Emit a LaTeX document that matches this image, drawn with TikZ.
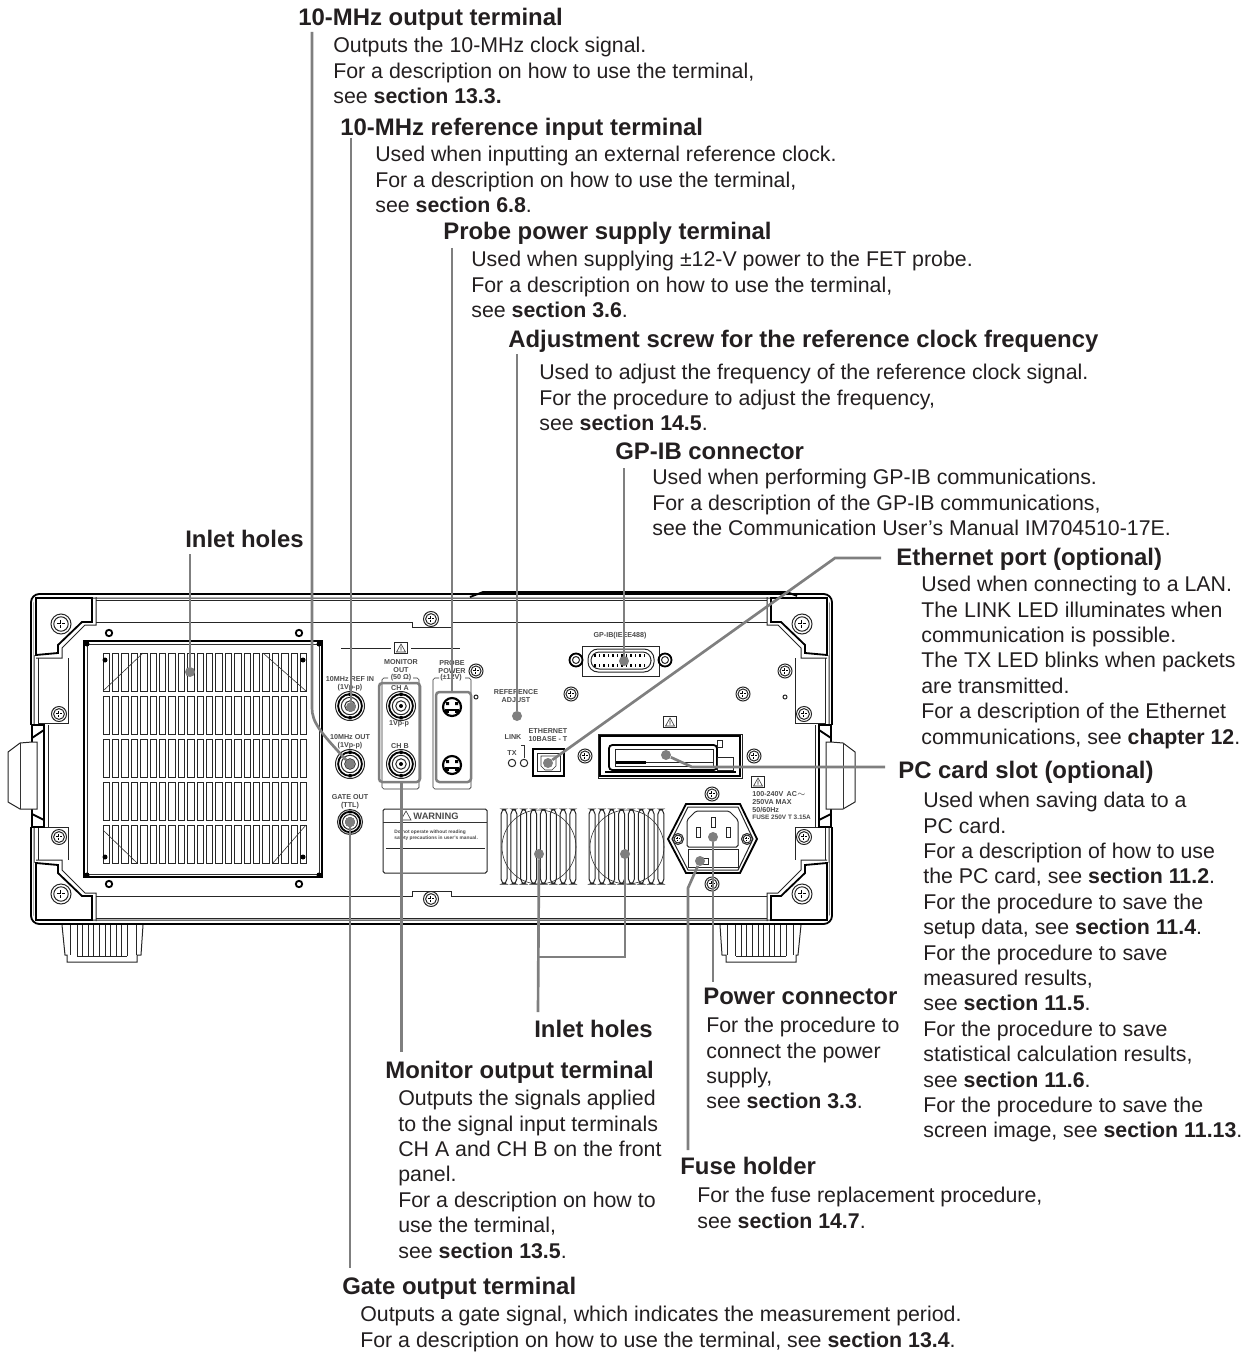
\documentclass[tikz,border=0pt]{standalone}
\usepackage{fontspec}
\setmainfont{Liberation Sans}
\usetikzlibrary{positioning}
\definecolor{leadgray}{HTML}{7F7F7F}
\definecolor{inkblack}{HTML}{231F20}
\definecolor{taggray}{HTML}{4A4A4A}
\tikzset{
  head/.style={anchor=base west, inner sep=0pt, text=inkblack, text depth=3pt,
    font=\fontsize{14.35}{16}\selectfont\bfseries},
  body/.style={align=left, inner sep=0pt, text=inkblack,
    font=\fontsize{12.8}{15.23}\selectfont},
  lead/.style={draw=leadgray, line width=1.6pt},
  tip/.style={circle, fill=leadgray, inner sep=0pt, minimum size=6pt},
  markbox/.style={draw=leadgray, line width=1.5pt, rounded corners=2pt, inner sep=0pt},
  tag/.style={inner sep=0pt, align=center, text=taggray,
    font=\fontsize{4.3}{4.7}\selectfont\bfseries},
  hair/.style={draw=black!80, line width=0.35pt},
  edge/.style={draw=black!85, line width=0.6pt},
  heavy/.style={draw=black, line width=1.1pt},
  pics/screw/.style={code={
    \draw[edge] (0,0) circle (#1);
    \draw[edge] (0,0) circle ({0.72*#1});
    \draw[black, line width=1.1pt] ({-0.4*#1},0) -- ({0.4*#1},0) (0,{-0.4*#1}) -- (0,{0.4*#1});
    \draw[white, line width=0.4pt] ({-0.36*#1},0) -- ({0.36*#1},0) (0,{-0.36*#1}) -- (0,{0.36*#1});
  }},
  pics/bnc/.style={code={
    \draw[edge] (0,0) circle (#1);
    \draw[heavy] (0,0) circle ({0.82*#1});
    \draw[edge] (0,0) circle ({0.6*#1});
    \draw[edge] (0,0) circle ({0.36*#1});
    \fill[black] (0,0) circle (2);
    \fill[black] (-1.5,{-0.92*#1}) rectangle (1.5,{-0.7*#1}) (-1.5,{0.7*#1}) rectangle (1.5,{0.92*#1});
  }},
  pics/din/.style={code={
    \draw[black, line width=1.3pt] (0,0) circle (9);
    \fill[black] (-7,2) rectangle (7,6);
    \fill[black] (-6,-5) rectangle (-3,-2) (3,-5) rectangle (6,-2);
    \fill[white] (-3,4) rectangle (3,6);
  }},
  pics/caution/.style={code={
    \draw[edge] (-6.5,-5.5) rectangle (6.5,5.5);
    \draw[hair] (0,-4) -- (-4.5,4) -- (4.5,4) -- cycle (0,-1.5) -- (0,2.5);
  }},
}
\begin{document}
\begin{tikzpicture}[x=0.6pt, y=-0.6pt]
  \useasboundingbox (0,0) rectangle (1250,1354);

  % cabinet
  \draw[heavy, rounded corners=5pt] (31,594) rectangle (832,924);
  \draw[edge, rounded corners=3pt] (34,598) rectangle (829,920);
  \draw[heavy] (470,597) -- (483,592) -- (787,592) -- (797,596);
  \foreach \sx/\sy in {1/1,-1/1,1/-1,-1/-1} {
    \begin{scope}[shift={(431.5,759)}, xscale=\sx, yscale=\sy, shift={(-431.5,-759)}]
      \fill[white] (34,598) -- (92,598) -- (92,622) -- (82,622) -- (58,645) -- (58,653) -- (34,655) -- cycle;
      \draw[heavy] (36,598) -- (92,598) -- (92,622) -- (82,622) -- (58,645) -- (58,653) -- (36,655) -- cycle;
      \draw[edge] (96,597) -- (96,625) -- (85,625) -- (62,648) -- (62,658) -- (36,658);
      \draw[edge] (96,600) -- (431.5,600);
      \draw[edge] (96,622) -- (412,622) -- (412,627) -- (431.5,627);
      \pic at (61,624) {screw=10};
    \end{scope}
  }
  \foreach \sx in {1,-1} {
    \begin{scope}[shift={(431.5,0)}, xscale=\sx, shift={(-431.5,0)}]
      % side plates and handle
      \draw[edge] (38,658) -- (38,723) -- (68,723) -- (68,658);
      \draw[edge] (38,860) -- (38,827) -- (68,827) -- (68,860);
      \fill[white] (25,725) rectangle (50,827);
      \draw[heavy] (32,725) rectangle (44,827);
      \draw[edge] (48,725) -- (48,827);
      \draw[edge, fill=white] (32,742) -- (20,743) -- (8,752) -- (8,802) -- (20,809) -- (37,809) -- (37,742) -- cycle;
      \draw[hair] (20,743) -- (20,809);
      \draw[heavy] (44,730) -- (32,738) (44,820) -- (32,814);
      \pic at (59,714) {screw=7.5};
      \pic at (59,837) {screw=7.5};
      % foot
      \draw[edge] (62,925) -- (65,955) -- (67,955) -- (67,962) -- (137,962) -- (137,955) -- (141,955) -- (143,925);
      \draw[edge] (70,925) -- (70,955) (136,925) -- (136,955);
      \foreach \k in {0,...,9} { \draw[edge] ({77+\k*5.6},925) -- ({77+\k*5.6},956); }
      \draw[edge] (77,956) -- (127,956);
    \end{scope}
  }

  % grille
  \draw[heavy] (84,641) rectangle (322,877);
  \draw[hair] (87,644) rectangle (319,874);
  \foreach \r in {653,696,739,782,825} {
    \foreach \c in {0,...,21} { \draw[edge] ({103+\c*9.4},\r) rectangle ++(6.5,38); }
  }
  \draw[hair] (103,691) -- (143,653) (263,653) -- (306,691) (103,830) -- (137,863) (273,863) -- (306,825);
  \foreach \px/\py in {105/660,303/660,105/857,303/857,87/644,319/644,87/875,319/875} { \fill[black] (\px,\py) circle (2.5); }
  \foreach \px/\py in {109/633,299/633,109/884,299/884} { \draw[heavy] (\px,\py) circle (3.2); }

  % terminals on the left
  \draw[edge] (341,648) -- (391,648) (411,648) -- (460,648);
  \pic at (401,648) {caution};
  \pic at (350,706) {bnc=14.5};
  \pic at (350,764) {bnc=14.5};
  \pic at (350,822) {bnc=12.5};
  \pic at (401,706) {bnc=14.5};
  \pic at (401,764) {bnc=14.5};
  \pic at (452,707) {din};
  \pic at (452,765) {din};
  \draw[hair, rounded corners=1pt] (388,678) -- (382,678) -- (382,789) -- (419,789) -- (419,678) -- (413,678);
  \draw[hair, rounded corners=1pt] (439,678) -- (433,678) -- (433,789) -- (471,789) -- (471,678) -- (465,678);
  \node[tag] (tagref) at (350,684) {10MHz REF IN\\(1Vp-p)};
  \node[tag] (tagout) at (350,742) {10MHz OUT\\(1Vp-p)};
  \node[tag] (taggate) at (350,802) {GATE OUT\\(TTL)};
  \node[tag] (tagmon) at (401,666) {MONITOR\\OUT};
  \node[tag] (tagohm) at (401,678) {(50 Ω)};
  \node[tag] (tagcha) at (400,688) {CH A};
  \node[tag] (tagvpp) at (399,724) {1Vp-p};
  \node[tag] (tagchb) at (400,746) {CH B};
  \node[tag] (tagprobe) at (452,667) {PROBE\\POWER};
  \node[tag] (tagvolt) at (451,678) {(±12V)};

  % warning plate
  \draw[edge, rounded corners=1pt] (383,809) rectangle (487,873);
  \draw[hair] (383,822) -- (487,822);
  \draw[edge] (386,848) -- (485,848);
  \draw[hair] (406,811) -- (401,820) -- (411,820) -- cycle;
  \node[tag, font=\fontsize{5.6}{6}\selectfont\bfseries] (tagwarn) at (436,816) {WARNING};
  \node[tag, anchor=west, align=left, font=\fontsize{2.9}{3.6}\selectfont\bfseries] (tagread) at (394,835) {Do not operate without reading\\safety precautions in user's manual.};

  % middle panel
  \node[tag] (tagadj) at (516,696) {REFERENCE\\ADJUST};
  \node[tag] (taglink) at (513,737) {LINK};
  \node[tag] (tagtx) at (512,753) {TX};
  \draw[hair] (521,745) -- (524,745) -- (524,758);
  \draw[edge] (512,763) circle (3.7) (524,763) circle (3.7);
  \node[tag] (tageth) at (548,735) {ETHERNET\\10BASE - T};
  \draw[black, line width=1.6pt] (533,749) rectangle (564,776);
  \draw[edge] (537,753) rectangle (560,771);
  \draw[hair] (541,756) -- (556,756) -- (556,766) -- (552,770) -- (545,770) -- (541,766) -- cycle;
  \node[tag] (taggpib) at (620,636) {GP-IB(IEEE488)};
  \draw[edge] (582,646) rectangle (659,676);
  \draw[edge, rounded corners=6pt] (588,649) rectangle (654,672);
  \draw[edge, rounded corners=5pt] (591,652) rectangle (651,669);
  \foreach \k in {0,...,11} { \draw[heavy] ({595+\k*4.5},654) -- ({595+\k*4.5},657) ({595+\k*4.5},664) -- ({595+\k*4.5},667); }
  \foreach \px in {576,665} { \draw[heavy] (\px,660) circle (6.5); \draw[edge] (\px,660) circle (3.5); }
  \foreach \px/\py/\rd in {431/619/7.5,431/899/7.5,476/671/7,571/694/7,743/694/7,785/671/7,585/756/7,754/756/7,712/794/7,712/884/7,678/839/5.5,747/839/5.5} {
    \pic at (\px,\py) {screw=\rd};
  }
  \foreach \px in {476,785} { \draw[edge] (\px,697) circle (2); }

  % card slot
  \pic at (670,722) {caution};
  \draw[edge] (598,734) rectangle (742,778);
  \draw[heavy] (600,736) rectangle (740,776);
  \draw[heavy, rounded corners=2pt] (609,745) rectangle (717,770);
  \draw[edge] (615,749) rectangle (713,766);
  \fill[black] (616,761) rectangle (646,764);
  \draw[edge] (646,762) -- (713,762);
  \draw[edge] (717,757) rectangle (733,770) (717,740) rectangle (722,747);
  \fill[black] (605,771) rectangle (736,773);

  % power inlet
  \pic at (758,782) {caution};
  \node[tag, align=left, anchor=north west] (tagrate) at (752,791) {100-240V \,AC$\sim$\\250VA MAX\\50/60Hz\\{\fontsize{3.85}{4.7}\selectfont FUSE 250V T 3.15A}};
  \draw[heavy] (668,839) -- (686,804) -- (740,804) -- (757,839) -- (740,873) -- (686,873) -- cycle;
  \draw[edge] (672,839) -- (688,807) -- (738,807) -- (753,839) -- (738,870) -- (688,870) -- cycle;
  \draw[edge, rounded corners=1pt] (687,847) -- (687,820) -- (696,811) -- (729,811) -- (738,820) -- (738,847) -- cycle;
  \draw[edge] (688,849) rectangle (738,867);
  \draw[edge] (696,827) rectangle (700,837) (711,817) rectangle (715,827) (726,827) rectangle (730,837);
  \draw[edge] (703,858) rectangle (708,864);

  % vents
  \foreach \vx in {501,589} {
    \draw[hair] ({\vx+38},847) circle (37);
    \foreach \k in {0,...,7} {
      \draw[edge, rounded corners=3pt] ({\vx+\k*9.85},809) rectangle ++(6,75);
    }
  }

  % callouts
  \node[head] (houtput) at (298,26) {10-MHz output terminal};
  \node[body, below right=3.4pt and 21pt of houtput.south west] (boutput) {Outputs the 10-MHz clock signal.\\For a description on how to use the terminal,\\see \textbf{section 13.3.}};
  \node[head] (hrefin) at (340,136) {10-MHz reference input terminal};
  \node[body, below right=2.8pt and 21pt of hrefin.south west] (brefin) {Used when inputting an external reference clock.\\For a description on how to use the terminal,\\see \textbf{section 6.8}.};
  \node[head] (hprobe) at (443,240) {Probe power supply terminal};
  \node[body, below right=3.4pt and 16.8pt of hprobe.south west] (bprobe) {Used when supplying ±12-V power to the FET probe.\\For a description on how to use the terminal,\\see \textbf{section 3.6}.};
  \node[head] (hadjust) at (508,347) {Adjustment screw for the reference clock frequency};
  \node[body, below right=7pt and 18.6pt of hadjust.south west] (badjust) {Used to adjust the frequency of the reference clock signal.\\For the procedure to adjust the frequency,\\see \textbf{section 14.5}.};
  \node[head] (hgpib) at (615,459) {GP-IB connector};
  \node[body, below right=2.8pt and 22.2pt of hgpib.south west] (bgpib) {Used when performing GP-IB communications.\\For a description of the GP-IB communications,\\see the Communication User's Manual IM704510-17E.};
  \node[head] (hinleta) at (185,547) {Inlet holes};
  \node[head] (heth) at (896,565) {Ethernet port (optional)};
  \node[body, below right=3.4pt and 15pt of heth.south west] (beth) {Used when connecting to a LAN.\\The LINK LED illuminates when\\communication is possible.\\The TX LED blinks when packets\\are transmitted.\\For a description of the Ethernet\\communications, see \textbf{chapter 12}.};
  \node[head] (hcard) at (898,778) {PC card slot (optional)};
  \node[body, below right=5.2pt and 15pt of hcard.south west] (bcard) {Used when saving data to a\\PC card.\\For a description of how to use\\the PC card, see \textbf{section 11.2}.\\For the procedure to save the\\setup data, see \textbf{section 11.4}.\\For the procedure to save\\measured results,\\see \textbf{section 11.5}.\\For the procedure to save\\statistical calculation results,\\see \textbf{section 11.6}.\\For the procedure to save the\\screen image, see \textbf{section 11.13}.};
  \node[head] (hpower) at (703,1004) {Power connector};
  \node[body, below right=4.6pt and 1.8pt of hpower.south west] (bpower) {For the procedure to\\connect the power\\supply,\\see \textbf{section 3.3}.};
  \node[head] (hinletb) at (534,1037) {Inlet holes};
  \node[head] (hmon) at (385,1078) {Monitor output terminal};
  \node[body, below right=4pt and 7.8pt of hmon.south west] (bmon) {Outputs the signals applied\\to the signal input terminals\\CH A and CH B on the front\\panel.\\For a description on how to\\use the terminal,\\see \textbf{section 13.5}.};
  \node[head] (hfuse) at (680,1174) {Fuse holder};
  \node[body, below right=4.6pt and 10.2pt of hfuse.south west] (bfuse) {For the fuse replacement procedure,\\see \textbf{section 14.7}.};
  \node[head] (hgate) at (342,1294) {Gate output terminal};
  \node[body, below right=4pt and 10.8pt of hgate.south west] (bgate) {Outputs a gate signal, which indicates the measurement period.\\For a description on how to use the terminal, see \textbf{section 13.4}.};

  % end points
  \node[tip] (tipoutput) at (350,764) {};
  \node[tip] (tiprefin) at (351,707) {};
  \node[tip] (tipadjust) at (517,716) {};
  \node[tip] (tipgpib) at (624,661) {};
  \node[tip] (tipeth) at (548,763) {};
  \node[tip] (tipcard) at (666,755) {};
  \node[tip] (tipfuse) at (700,861) {};
  \node[tip] (tippower) at (713,837) {};
  \node[tip] (tipinleta) at (190,672) {};
  \node[tip] (tipinletb) at (539,854) {};
  \node[tip] (tipinletc) at (625,854) {};
  \node[tip] (tipgate) at (350,822) {};
  \node[markbox, minimum width=24.6pt, minimum height=59.4pt] (monbox) at (399.5,732.5) {};
  \node[markbox, minimum width=21pt, minimum height=54pt] (probebox) at (453.5,737) {};
  \coordinate (topoutput) at (312,32);
  \coordinate (bendoutput) at (312,708);
  \coordinate (toprefin) at (351,138);
  \coordinate (topprobe) at (452,248);
  \coordinate (topadjust) at (517,354);
  \coordinate (topgpib) at (624,468);
  \coordinate (topinleta) at (190,554);
  \coordinate (endmon) at (401.5,1052);
  \coordinate (endgate) at (350,1268);
  \coordinate (endfuse) at (688,1150);
  \coordinate (endpower) at (713,982);
  \coordinate (endinlet) at (538,1012);
  \coordinate (bendeth) at (835,558);
  \coordinate (starteth) at (881,558);
  \coordinate (startcard) at (885,767);
  \coordinate (bendcard) at (692,767);
  \coordinate (bendfuse) at (688,888);
  \coordinate (joininlet) at (538,957);

  \draw[lead] (topoutput) -- (bendoutput) .. controls (312,722) and (320,732) .. (tipoutput);
  \draw[lead] (toprefin) -- (tiprefin);
  \draw[lead] (topprobe) -- (probebox.north -| topprobe);
  \draw[lead] (topadjust) -- (tipadjust);
  \draw[lead] (topgpib) -- (tipgpib);
  \draw[lead] (topinleta) -- (tipinleta);
  \draw[lead] (starteth) -- (bendeth) -- (tipeth);
  \draw[lead] (startcard) -- (bendcard) -- (tipcard);
  \draw[lead] (tipfuse) -- (bendfuse) -- (endfuse);
  \draw[lead] (tippower) -- (endpower);
  \draw[lead] (tipinletb) -- (endinlet);
  \draw[lead] (tipinletc) -- (tipinletc |- joininlet) -- (joininlet);
  \draw[lead] (monbox.south -| endmon) -- (endmon);
  \draw[lead] (tipgate) -- (endgate);
\end{tikzpicture}
\end{document}
